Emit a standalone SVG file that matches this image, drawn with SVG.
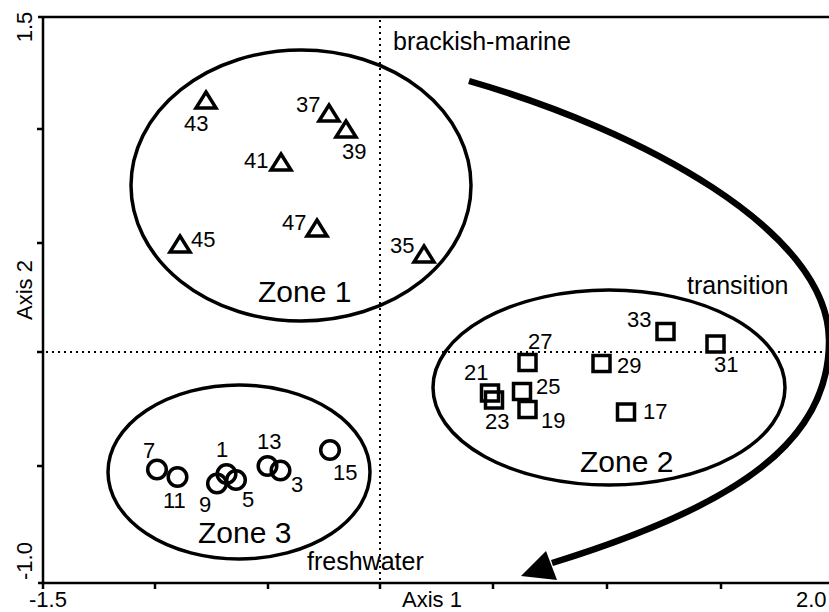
<svg xmlns="http://www.w3.org/2000/svg" xmlns:xlink="http://www.w3.org/1999/xlink" width="829" height="612" viewBox="0 0 829 612">
<style>
  text { font-family: "Liberation Sans", Arial, sans-serif; fill: #000; }
  .tick { font-size: 22px; }
  .lbl { font-size: 22px; }
  .zone { font-size: 30px; }
  .region { font-size: 25px; }
  .axis { stroke: #000; stroke-width: 2.5; fill: none; }
  .dot { stroke: #000; stroke-width: 2; stroke-dasharray: 2 4; fill: none; }
  .ell { stroke: #000; stroke-width: 3.5; fill: none; }
  .mk { stroke: #000; stroke-width: 3.5; fill: none; stroke-linejoin: miter; }
  .arrow { stroke: #000; stroke-width: 6.5; fill: none; stroke-linecap: butt; }
</style>
<defs>
  <path id="tri" class="mk" d="M0,-8 L10,8 L-10,8 Z"/>
  <rect id="sq" class="mk" x="-8.5" y="-8" width="17" height="16"/>
  <circle id="ci" class="mk" r="9.3"/>
</defs>
<rect width="829" height="612" fill="#fff"/>

<g id="axes">
  <path class="axis" d="M38,17 H829 M43,17 V589 M38,583 H829"/>
  <path class="axis" d="M37,129 H43 M37,243 H43 M37,352 H43 M37,466 H43 M155,583 V589 M268,583 V589 M380,583 V589 M493,583 V589 M607,583 V589 M721,583 V589"/>
  <path class="dot" d="M380,20 V583 M46,352 H829"/>
  <text class="tick" transform="translate(32,27) rotate(-90)" text-anchor="middle">1.5</text>
  <text class="tick" transform="translate(32,290) rotate(-90)" text-anchor="middle">Axis 2</text>
  <text class="tick" transform="translate(32,561) rotate(-90)" text-anchor="middle">-1.0</text>
  <text class="tick" x="29" y="607">-1.5</text>
  <text class="tick" x="402" y="607">Axis 1</text>
  <text class="tick" x="796" y="607">2.0</text>
</g>

<g id="zone1">
  <ellipse class="ell" cx="301" cy="185.5" rx="170" ry="135.5"/>
  <text class="zone" x="258" y="302">Zone 1</text>
</g>
<g id="zone2">
  <ellipse class="ell" cx="609" cy="387.5" rx="176" ry="97.5"/>
  <text class="zone" x="580" y="472">Zone 2</text>
</g>
<g id="zone3">
  <ellipse class="ell" cx="239" cy="472" rx="131" ry="87"/>
  <text class="zone" x="198" y="543">Zone 3</text>
</g>

<g id="regions">
  <text class="region" x="393" y="50">brackish-marine</text>
  <text class="region" x="687" y="294">transition</text>
  <text class="region" x="307" y="570">freshwater</text>
</g>

<g id="p43"><use href="#tri" x="206" y="100"/><text class="lbl" x="184" y="131">43</text></g>
<g id="p37"><use href="#tri" x="329" y="113"/><text class="lbl" x="296" y="112">37</text></g>
<g id="p39"><use href="#tri" x="346" y="129"/><text class="lbl" x="342" y="159">39</text></g>
<g id="p41"><use href="#tri" x="281" y="162"/><text class="lbl" x="244" y="168">41</text></g>
<g id="p47"><use href="#tri" x="317" y="228"/><text class="lbl" x="282" y="230">47</text></g>
<g id="p45"><use href="#tri" x="180" y="244"/><text class="lbl" x="191" y="247">45</text></g>
<g id="p35"><use href="#tri" x="424" y="254"/><text class="lbl" x="390" y="253">35</text></g>

<g id="p33"><use href="#sq" x="665.5" y="331.5"/><text class="lbl" x="627" y="327">33</text></g>
<g id="p31"><use href="#sq" x="715.5" y="344"/><text class="lbl" x="714" y="372">31</text></g>
<g id="p27"><use href="#sq" x="527.5" y="362.5"/><text class="lbl" x="528" y="349">27</text></g>
<g id="p29"><use href="#sq" x="601.5" y="363.5"/><text class="lbl" x="617" y="373">29</text></g>
<g id="p21"><use href="#sq" x="490" y="393"/><text class="lbl" x="464" y="380">21</text></g>
<g id="p23"><use href="#sq" x="494" y="400"/><text class="lbl" x="485" y="429">23</text></g>
<g id="p25"><use href="#sq" x="522" y="391.5"/><text class="lbl" x="536" y="394">25</text></g>
<g id="p19"><use href="#sq" x="527.5" y="409.5"/><text class="lbl" x="541" y="428">19</text></g>
<g id="p17"><use href="#sq" x="626" y="412"/><text class="lbl" x="643" y="419">17</text></g>

<g id="p7"><use href="#ci" x="157" y="469.5"/><text class="lbl" x="143" y="458">7</text></g>
<g id="p11"><use href="#ci" x="177.5" y="477"/><text class="lbl" x="163" y="508">11</text></g>
<g id="p1"><use href="#ci" x="226.5" y="474"/><text class="lbl" x="216" y="457">1</text></g>
<g id="p9"><use href="#ci" x="217" y="483.5"/><text class="lbl" x="199" y="512">9</text></g>
<g id="p5"><use href="#ci" x="236" y="480"/><text class="lbl" x="242" y="507">5</text></g>
<g id="p13"><use href="#ci" x="267.5" y="466"/><text class="lbl" x="257" y="449">13</text></g>
<g id="p3"><use href="#ci" x="280.5" y="470.5"/><text class="lbl" x="291" y="492">3</text></g>
<g id="p15"><use href="#ci" x="330" y="450"/><text class="lbl" x="333" y="480">15</text></g>

<g id="connectors">
  <path class="arrow" d="M469,81 C640,130 828,230 829,340 C830,440 740,505 552,563"/>
  <polygon points="521,576 546,551 557,580" fill="#000"/>
</g>
</svg>
